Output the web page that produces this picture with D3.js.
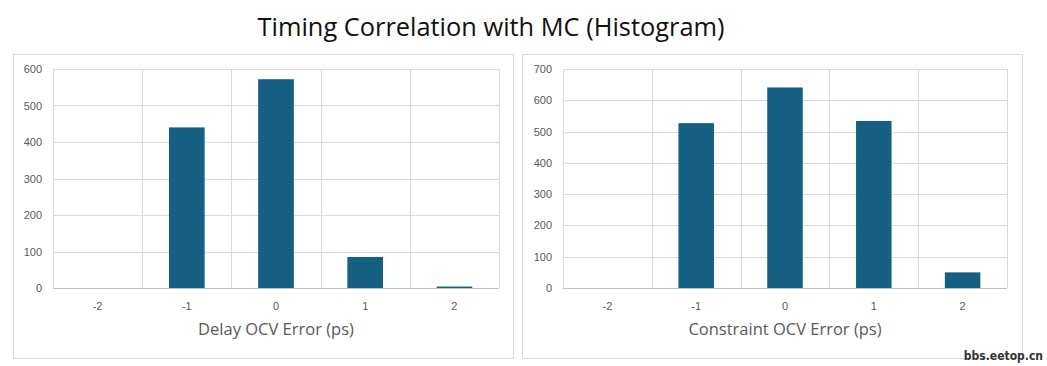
<!DOCTYPE html>
<html><head><meta charset="utf-8">
<script src="https://cdn.jsdelivr.net/npm/d3@7"></script>
<style>body{margin:0;background:#fff;} svg{display:block;}</style>
</head><body>
<svg id="chart" width="1047" height="366"></svg>
<script>
const mainTitle = "Timing Correlation with MC (Histogram)";
const categories = ["-2", "-1", "0", "1", "2"];
const delayCounts = [0, 440, 572, 85, 4];
const constraintCounts = [0, 527, 641, 534, 50];
const delayTicks = [0, 100, 200, 300, 400, 500, 600];
const constraintTicks = [0, 100, 200, 300, 400, 500, 600, 700];
const delayTitle = "Delay OCV Error (ps)";
const constraintTitle = "Constraint OCV Error (ps)";
const watermark = "bbs.eetop.cn";

const svg = d3.select("#chart");
const barColor = "#156082";
const gridColor = "#d9d9d9";
const textColor = "#595959";

svg.append("text").attr("x", 491).attr("y", 36).attr("text-anchor", "middle")
  .attr("font-family", "Open Sans, Noto Sans, sans-serif").attr("font-size", 25.4)
  .attr("fill", "#111").text(mainTitle);

function panel(box, plot, values, ticks, title) {
  svg.append("rect").attr("x", box.x + 0.5).attr("y", box.y + 0.5)
    .attr("width", box.w).attr("height", box.h)
    .attr("fill", "#fff").attr("stroke", gridColor).attr("stroke-width", 1);
  const g = svg.append("g");
  const x = d3.scaleBand().domain(categories).range([plot.x0, plot.x1]).paddingInner(0).paddingOuter(0);
  const y = d3.scaleLinear().domain([0, d3.max(ticks)]).range([plot.y0, plot.y1]);
  g.selectAll(".hg").data(ticks).join("line")
    .attr("x1", plot.x0).attr("x2", plot.x1)
    .attr("y1", d => Math.round(y(d)) + 0.5).attr("y2", d => Math.round(y(d)) + 0.5)
    .attr("stroke", d => d === 0 ? "#bfbfbf" : gridColor).attr("stroke-width", 1);
  const bounds = categories.map(c => x(c)).concat([plot.x1]);
  g.selectAll(".vg").data(bounds).join("line")
    .attr("x1", d => Math.round(d) + 0.5).attr("x2", d => Math.round(d) + 0.5)
    .attr("y1", y(d3.max(ticks))).attr("y2", y(0))
    .attr("stroke", gridColor).attr("stroke-width", 1);
  const bw = x.bandwidth() / 2.5;
  g.selectAll(".bar").data(values).join("rect")
    .attr("x", (d, i) => x(categories[i]) + x.bandwidth() / 2 - bw / 2)
    .attr("width", bw)
    .attr("y", d => y(d)).attr("height", d => y(0) - y(d))
    .attr("fill", barColor);
  g.selectAll(".yl").data(ticks).join("text")
    .attr("x", plot.x0 - 11).attr("y", d => y(d) + 4)
    .attr("text-anchor", "end").attr("font-family", "Liberation Sans, Arial, sans-serif")
    .attr("font-size", 11).attr("fill", textColor).text(d => d);
  g.selectAll(".xl").data(categories).join("text")
    .attr("x", d => x(d) + x.bandwidth() / 2).attr("y", plot.y0 + 22)
    .attr("text-anchor", "middle").attr("font-family", "Liberation Sans, Arial, sans-serif")
    .attr("font-size", 11).attr("fill", textColor).text(d => d);
  g.append("text").attr("x", (plot.x0 + plot.x1) / 2).attr("y", plot.y0 + 47)
    .attr("text-anchor", "middle").attr("font-family", "Open Sans, Noto Sans, sans-serif")
    .attr("font-size", 16.5).attr("fill", textColor).text(title);
}

panel({x: 13, y: 54, w: 500, h: 304}, {x0: 53, x1: 499, y0: 288, y1: 69}, delayCounts, delayTicks, delayTitle);
panel({x: 522, y: 54, w: 500, h: 304}, {x0: 563, x1: 1007, y0: 288, y1: 69}, constraintCounts, constraintTicks, constraintTitle);

svg.append("text").attr("x", 1043).attr("y", 360).attr("text-anchor", "end")
  .attr("font-family", "DejaVu Sans Condensed, Liberation Sans Narrow, sans-serif")
  .attr("font-weight", "bold").attr("font-size", 12).attr("fill", "#333").text(watermark);
</script>
</body></html>
